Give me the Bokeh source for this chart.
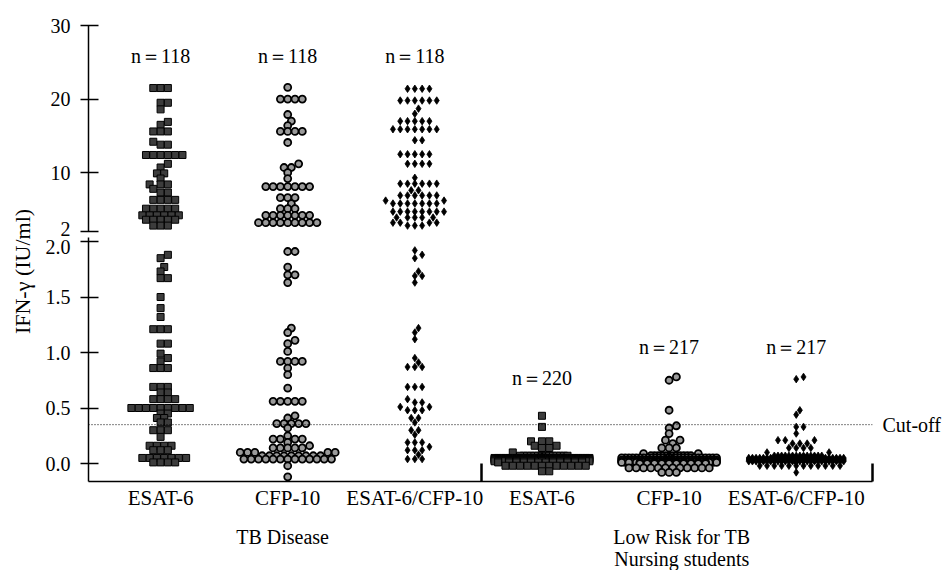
import numpy as np
from bokeh.plotting import figure
from bokeh.layouts import row, column
from bokeh.models import Range1d, FixedTicker, Span, Label, LinearAxis
from bokeh.embed import file_html
from bokeh.resources import INLINE
from bokeh.core.properties import value

# ---------------- data ----------------
categories = ["ESAT-6", "CFP-10", "ESAT-6/CFP-10", "ESAT-6", "CFP-10", "ESAT-6/CFP-10"]
group_names = ["TB Disease", "Low Risk for TB", "Nursing students"]
n_per_group = [118, 118, 118, 220, 217, 217]
cutoff = 0.35
upper_ticks = [2, 10, 20, 30]
lower_ticks = [0.0, 0.5, 1.0, 1.5, 2.0]

# each group: the value of each row of dots (IU/ml) and how many dots are in that row
tb_esat_vals = [21.5, 19.5, 18.6, 16.9, 16.5, 15.6, 14.2, 13.8, 12.4, 11.2, 10.7, 9.9, 9.2, 8.4, 7.8,
                7.3, 6.3, 5.1, 4.2, 3.6, 2.8,
                1.88, 1.85, 1.77, 1.73, 1.67, 1.50, 1.40, 1.32, 1.21, 1.08, 0.99, 0.95, 0.92, 0.86,
                0.69, 0.64, 0.58, 0.50, 0.45, 0.41, 0.37, 0.30, 0.24, 0.16, 0.12, 0.05, 0.01]
tb_esat_counts = [3, 2, 1, 1, 1, 3, 1, 2, 6, 1, 1, 2, 1, 3, 1,
                  2, 4, 5, 6, 5, 3,
                  1, 1, 1, 1, 2, 1, 1, 1, 3, 2, 1, 1, 1, 3,
                  3, 2, 4, 9, 2, 2, 2, 3, 1, 4, 3, 7, 4]

tb_cfp_vals = [21.6, 20.0, 17.9, 17.0, 16.4, 15.6, 14.1, 11.2, 10.7, 10.0, 9.2, 8.1, 6.6, 5.8, 5.1,
               4.2, 3.2,
               1.91, 1.77, 1.70, 1.63, 1.22, 1.18, 1.11, 1.08, 1.01, 0.92, 0.86, 0.80, 0.68, 0.56,
               0.43, 0.41, 0.36, 0.32, 0.25, 0.22, 0.19, 0.16, 0.14, 0.10, 0.07, 0.04, -0.02, -0.12]
tb_cfp_counts = [1, 4, 1, 1, 1, 4, 1, 1, 2, 1, 1, 7, 3, 1, 3,
                 7, 9,
                 2, 1, 2, 1, 1, 1, 1, 1, 1, 4, 1, 1, 1, 5,
                 1, 1, 5, 1, 1, 4, 1, 1, 5, 5, 9, 13, 1, 1]

tb_combo_vals = [21.4, 19.8, 18.7, 18.0, 17.0, 15.9, 14.4, 12.5, 11.2, 9.3, 8.5, 7.6, 6.9, 6.2, 5.8,
                 4.7, 3.9, 3.2, 2.8,
                 1.92, 1.88, 1.85, 1.73, 1.69, 1.63, 1.22, 1.18, 1.12, 0.95, 0.91, 0.87, 0.69, 0.58,
                 0.55, 0.51, 0.48, 0.41, 0.37, 0.30, 0.26, 0.19, 0.15, 0.12, 0.08, 0.04]
tb_combo_counts = [4, 6, 1, 1, 5, 7, 2, 5, 4, 1, 6, 2, 6, 2, 7,
                   8, 5, 4, 3,
                   1, 1, 1, 1, 2, 1, 1, 1, 1, 1, 1, 3, 3, 1,
                   2, 2, 3, 2, 1, 2, 1, 3, 1, 3, 1, 3]

lr_esat_vals = [0.43, 0.33, 0.20, 0.16, 0.14, 0.10, 0.07, 0.05, 0.04, 0.03, 0.02, 0.01, -0.02, -0.07]
lr_esat_counts = [1, 1, 3, 2, 2, 1, 14, 40, 50, 50, 30, 12, 12, 2]

lr_cfp_vals = [0.78, 0.75, 0.48, 0.34, 0.32, 0.27, 0.21, 0.18, 0.14, 0.09, 0.07, 0.05, 0.03, 0.02,
               0.01, 0.00, -0.04, -0.08]
lr_cfp_counts = [1, 1, 1, 1, 1, 1, 2, 1, 3, 2, 12, 36, 45, 45, 40, 10, 12, 3]

lr_combo_vals = [0.78, 0.76, 0.48, 0.44, 0.33, 0.27, 0.21, 0.18, 0.14, 0.10, 0.07, 0.05, 0.04, 0.03,
                 0.02, -0.02, -0.08]
lr_combo_counts = [1, 1, 1, 1, 2, 1, 3, 3, 4, 2, 14, 40, 46, 45, 40, 12, 1]

series = [(tb_esat_vals, tb_esat_counts), (tb_cfp_vals, tb_cfp_counts),
          (tb_combo_vals, tb_combo_counts), (lr_esat_vals, lr_esat_counts),
          (lr_cfp_vals, lr_cfp_counts), (lr_combo_vals, lr_combo_counts)]

# ---------------- geometry / style ----------------
FONT = "Liberation Serif"
TOTAL_H = 570
LAB_W = 72                      # left strip: y title and y tick labels
MAIN_W = 872
B_LEFT, B_RIGHT = 16, 72
UP_H, UP_TOP, UP_BOT = 234, 25, 3
LO_H, LO_TOP, LO_BOT = 285, 3, 38
BOT_H = TOTAL_H - UP_H - LO_H
FRAME_W = MAIN_W - B_LEFT - B_RIGHT

X_START, X_END = -0.567, 5.6
UP_START, UP_END = 2.0, 30.0
LO_START, LO_END = -0.162, 2.036
PX_X = FRAME_W / (X_END - X_START)
PX_UP = (UP_H - UP_TOP - UP_BOT) / (UP_END - UP_START)
PX_LO = (LO_H - LO_TOP - LO_BOT) / (LO_END - LO_START)
UP_FRAME_BOT = UP_H - UP_BOT                   # page y of the upper frame bottom
LO_FRAME_BOT = UP_H + LO_H - LO_BOT            # page y of the lower frame bottom

marker_styles = [
    dict(marker="square", size=7, fill_color="#3c3c3c", line_color="black", line_width=1),
    dict(marker="circle", size=7, fill_color="#9a9a9a", line_color="black", line_width=1.8),
    dict(marker="diamond", size=7.5, fill_color="black", line_color="black", line_width=0.8),
]


def swarm(vals, px_y, d_coll=5.2, step=3.65, half=48.0):
    """beeswarm layout: x offsets (data units) so that dots sit side by side"""
    vals = np.asarray(vals, float)
    order = np.argsort(vals, kind="stable")
    cands = [0.0]
    for j in range(1, int(half // step) + 1):
        cands += [j * step, -j * step]
    cands = np.array(cands)
    px, py = [], []
    xoff = np.zeros(len(vals))
    for i in order:
        y = vals[i] * px_y
        if px:
            ax = np.array(px)
            ay = np.array(py)
            dist = np.sqrt((cands[:, None] - ax[None, :]) ** 2 + (y - ay[None, :]) ** 2).min(axis=1)
            free = np.where(dist >= d_coll)[0]
            c = cands[free[0]] if len(free) else cands[int(np.argmax(dist))]
        else:
            c = 0.0
        px.append(c)
        py.append(y)
        xoff[i] = c / PX_X
    return xoff


xr = Range1d(X_START, X_END)


def base_fig(h, yr, top, bot, xloc):
    f = figure(width=MAIN_W, height=h, x_range=xr, y_range=Range1d(*yr),
               output_backend="svg", toolbar_location=None, x_axis_location=xloc,
               min_border_left=B_LEFT, min_border_right=B_RIGHT,
               min_border_top=top, min_border_bottom=bot)
    f.grid.visible = False
    f.outline_line_color = None
    f.background_fill_color = "white"
    f.border_fill_color = "white"
    return f


def style_y(ax, ticks):
    ax.ticker = FixedTicker(ticks=ticks)
    ax.major_label_overrides = {t: "" for t in ticks}   # labels are drawn in the left strip
    ax.major_label_standoff = 0
    ax.major_tick_in = 10
    ax.major_tick_out = 8
    ax.minor_tick_in = 0
    ax.minor_tick_out = 0
    ax.axis_line_width = 1.5
    ax.axis_line_color = "black"
    ax.major_tick_line_width = 1.5
    ax.major_tick_line_color = "black"


p_up = base_fig(UP_H, (UP_START, UP_END), UP_TOP, UP_BOT, None)
p_lo = base_fig(LO_H, (LO_START, LO_END), LO_TOP, LO_BOT, "below")
style_y(p_up.yaxis[0], upper_ticks)
style_y(p_lo.yaxis[0], lower_ticks)

# x axis: category names, group separators as inward minor ticks
xa = p_lo.xaxis[0]
xa.ticker = FixedTicker(ticks=list(range(len(categories))), minor_ticks=[2.525, X_END - 0.002])
xa.major_label_overrides = {i: c for i, c in enumerate(categories)}
xa.major_tick_in = 0
xa.major_tick_out = 0
xa.minor_tick_in = 18
xa.minor_tick_out = 0
xa.minor_tick_line_width = 2.5
xa.minor_tick_line_color = "black"
xa.axis_line_width = 1.5
xa.axis_line_color = "black"
xa.major_label_text_font = FONT
xa.major_label_text_font_size = "21px"
xa.major_label_text_color = "black"
xa.major_label_standoff = 4

# cut-off line and its label (label-only right axis)
p_lo.add_layout(Span(location=cutoff, dimension="width", line_color="black",
                     line_width=1, line_dash="1 2"))
cax = LinearAxis(ticker=FixedTicker(ticks=[cutoff]))
cax.major_label_overrides = {cutoff: "Cut-off"}
cax.axis_line_color = None
cax.major_tick_line_color = None
cax.minor_tick_line_color = None
cax.major_tick_in = 0
cax.major_tick_out = 0
cax.major_label_standoff = 10
cax.major_label_text_font = FONT
cax.major_label_text_font_size = "20px"
cax.major_label_text_color = "black"
p_lo.add_layout(cax, "right")

# dots
for gi, (vals, counts) in enumerate(series):
    v = np.repeat(np.array(vals, float), counts)
    st = marker_styles[gi % 3]
    up = v >= 2.0
    if up.any():
        p_up.scatter(x=gi + swarm(v[up], PX_UP), y=v[up], **st)
    lo = ~up
    if lo.any():
        p_lo.scatter(x=gi + swarm(v[lo], PX_LO), y=v[lo], **st)

# n labels
n_text = ["n\uff1d%d" % n for n in n_per_group]
p_up.text(x=[0, 1, 2], y=[25.9] * 3, text=n_text[:3], text_font=value(FONT),
          text_font_size="20px", text_align="center", text_baseline="middle", text_color="black")
p_lo.text(x=[3, 4, 5], y=[0.77, 1.05, 1.05], text=n_text[3:], text_font=value(FONT),
          text_font_size="20px", text_align="center", text_baseline="middle", text_color="black")

# group names under the axis (own strip, y measured in pixels from its top)
p_bot = figure(width=MAIN_W, height=BOT_H, x_range=xr, y_range=Range1d(BOT_H, 0),
               output_backend="svg", toolbar_location=None, x_axis_location=None,
               y_axis_location=None, min_border_left=B_LEFT, min_border_right=B_RIGHT,
               min_border_top=0, min_border_bottom=0)
p_bot.grid.visible = False
p_bot.outline_line_color = None
p_bot.text(x=[0.96, 4.1, 4.1], y=[17, 17, 39], text=group_names, text_font=value(FONT),
           text_font_size="20px", text_align="center", text_baseline="middle", text_color="black")

# left strip: y tick labels for both panels, and the y title; same pixel scales as the panels
p_lab = figure(width=LAB_W, height=TOTAL_H, x_range=Range1d(0, LAB_W),
               y_range=Range1d(TOTAL_H, 0), output_backend="svg", toolbar_location=None,
               x_axis_location=None, y_axis_location=None, min_border=0)
p_lab.outline_line_color = None
p_lab.grid.visible = False
p_lab.extra_y_ranges = {
    "up": Range1d(UP_START - (TOTAL_H - UP_FRAME_BOT) / PX_UP, UP_START + UP_FRAME_BOT / PX_UP),
    "lo": Range1d(LO_START - (TOTAL_H - LO_FRAME_BOT) / PX_LO, LO_START + LO_FRAME_BOT / PX_LO),
}
tick_style = dict(text_font=value(FONT), text_font_size="20px", text_align="right",
                  text_baseline="middle", text_color="black")
LX = LAB_W - 2
p_lab.text(x=[LX] * 3, y=upper_ticks[1:], text=[str(t) for t in upper_ticks[1:]],
           y_range_name="up", **tick_style)
p_lab.text(x=[LX], y=upper_ticks[:1], text=[str(upper_ticks[0])], y_range_name="up",
           y_offset=-3, **tick_style)
p_lab.text(x=[LX] * 4, y=lower_ticks[:-1], text=["%.1f" % t for t in lower_ticks[:-1]],
           y_range_name="lo", **tick_style)
p_lab.text(x=[LX], y=lower_ticks[-1:], text=["%.1f" % lower_ticks[-1]], y_range_name="lo",
           y_offset=6, **tick_style)
p_lab.add_layout(Label(x=22, y=271, text="IFN-\u03b3 (IU/ml)", angle=np.pi / 2,
                       text_align="center", text_baseline="middle",
                       text_font=FONT, text_font_size="22px", text_color="black"))

layout = row(p_lab, column(p_up, p_lo, p_bot))
open("out.html", "w").write(file_html(layout, INLINE))
